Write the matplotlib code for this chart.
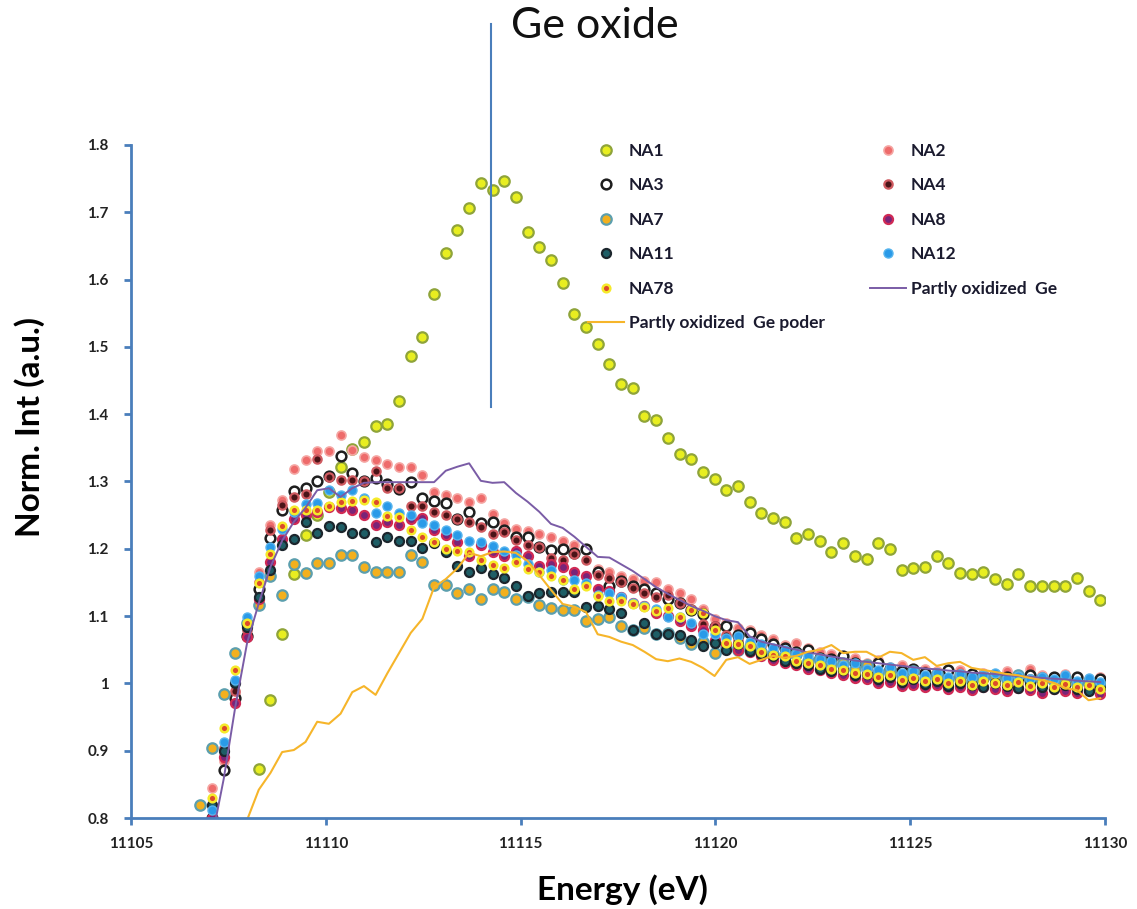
import matplotlib
matplotlib.use("Agg")
import matplotlib.pyplot as plt
import numpy as np

plt.rcParams["font.family"] = ["Lato", "DejaVu Sans"]

# energy grid (eV), 0.3 eV step
energy = 11106.78 + 0.3 * np.arange(78)

na1 = [0.700, 0.720, 0.740, 0.760, 0.785,
       0.873, 0.976, 1.073, 1.163, 1.221, 1.250, 1.285, 1.322, 1.348, 1.359,
       1.382, 1.385, 1.419, 1.487, 1.514, 1.578, 1.639, 1.673, 1.706, 1.743,
       1.733, 1.747, 1.723, 1.670, 1.649, 1.629, 1.595, 1.549, 1.529, 1.505,
       1.475, 1.445, 1.439, 1.398, 1.391, 1.364, 1.341, 1.334, 1.314, 1.303,
       1.287, 1.293, 1.270, 1.253, 1.246, 1.240, 1.216, 1.222, 1.212, 1.195,
       1.209, 1.189, 1.185, 1.209, 1.199, 1.168, 1.172, 1.173, 1.189, 1.179,
       1.164, 1.163, 1.166, 1.155, 1.148, 1.162, 1.145, 1.145, 1.145, 1.145,
       1.156, 1.138, 1.124]

na2 = [0.780, 0.845, 0.885, 0.985, 1.085, 1.165, 1.235, 1.272, 1.318, 1.332,
       1.345, 1.345, 1.369, 1.347, 1.336, 1.332, 1.326, 1.322, 1.322, 1.310,
       1.285, 1.280, 1.275, 1.270, 1.275, 1.252, 1.238, 1.230, 1.226, 1.222,
       1.218, 1.212, 1.206, 1.200, 1.170, 1.166, 1.160, 1.155, 1.152, 1.150,
       1.140, 1.134, 1.125, 1.110, 1.095, 1.090,
       1.082, 1.080, 1.072, 1.066, 1.057, 1.060, 1.052, 1.046, 1.044, 1.040,
       1.038, 1.030, 1.035, 1.025, 1.028, 1.020, 1.022, 1.018, 1.016, 1.020,
       1.014, 1.015, 1.012, 1.018, 1.013, 1.022, 1.012, 1.010, 1.014, 1.008,
       1.005, 1.010]

na3 = [0.760, 0.800, 0.871, 0.978, 1.070, 1.140, 1.216, 1.258, 1.286, 1.291,
       1.300, 1.308, 1.338, 1.313, 1.300, 1.305, 1.297, 1.289, 1.299, 1.276,
       1.271, 1.268, 1.244, 1.255, 1.238, 1.240, 1.228, 1.217, 1.218, 1.203,
       1.198, 1.200, 1.194, 1.199, 1.166, 1.144, 1.152, 1.144, 1.141, 1.134,
       1.125, 1.119, 1.109, 1.103, 1.084, 1.086,
       1.072, 1.075, 1.066, 1.058, 1.052, 1.047, 1.050, 1.038, 1.036, 1.041,
       1.030, 1.026, 1.030, 1.022, 1.018, 1.022, 1.016, 1.012, 1.020, 1.010,
       1.014, 1.008, 1.013, 1.010, 1.006, 1.012, 1.004, 1.009, 1.003, 1.010,
       1.000, 1.006]

na4 = [0.750, 0.820, 0.904, 0.988, 1.080, 1.150, 1.228, 1.265, 1.277, 1.282,
       1.333, 1.306, 1.302, 1.302, 1.300, 1.315, 1.290, 1.291, 1.264, 1.264,
       1.255, 1.250, 1.245, 1.240, 1.232, 1.222, 1.225, 1.213, 1.205, 1.203,
       1.186, 1.183, 1.192, 1.183, 1.161, 1.157, 1.150, 1.142, 1.134, 1.129,
       1.131, 1.120, 1.110, 1.089, 1.085, 1.072,
       1.065, 1.058, 1.055, 1.047, 1.043, 1.040, 1.033, 1.030, 1.027, 1.024,
       1.019, 1.022, 1.012, 1.014, 1.008, 1.010, 1.006, 1.009, 1.003, 1.006,
       1.001, 1.008, 1.002, 1.004, 1.000, 1.006, 0.999, 1.002, 0.998, 1.001,
       0.995, 0.998]

na7 = [0.819, 0.904, 0.984, 1.045, 1.090, 1.116, 1.160, 1.132, 1.177, 1.164,
       1.179, 1.179, 1.191, 1.191, 1.173, 1.166, 1.166, 1.166, 1.191, 1.180,
       1.146, 1.146, 1.134, 1.140, 1.125, 1.140, 1.136, 1.125, 1.129, 1.116,
       1.112, 1.109, 1.109, 1.093, 1.096, 1.099, 1.085, 1.080, 1.082, 1.073,
       1.075, 1.068, 1.059, 1.062, 1.045, 1.052,
       1.050, 1.054, 1.046, 1.044, 1.041, 1.044, 1.033, 1.036, 1.028, 1.030,
       1.022, 1.027, 1.016, 1.019, 1.013, 1.018, 1.008, 1.014, 1.006, 1.012,
       1.004, 1.011, 1.009, 1.006, 1.012, 1.005, 1.008, 1.003, 1.007, 0.999,
       1.004, 0.997]

na8 = [0.740, 0.800, 0.891, 0.971, 1.069, 1.126, 1.180, 1.215, 1.245, 1.250,
       1.255, 1.262, 1.260, 1.258, 1.250, 1.236, 1.240, 1.235, 1.244, 1.246,
       1.228, 1.220, 1.210, 1.190, 1.206, 1.195, 1.190, 1.196, 1.190, 1.175,
       1.178, 1.173, 1.165, 1.160, 1.140, 1.138, 1.128, 1.120, 1.115, 1.105,
       1.100, 1.092, 1.085, 1.080, 1.065, 1.058,
       1.050, 1.046, 1.040, 1.035, 1.030, 1.028, 1.022, 1.020, 1.015, 1.012,
       1.008, 1.006, 1.000, 1.002, 0.996, 0.998, 0.994, 0.997, 0.991, 0.995,
       0.990, 0.994, 0.992, 0.988, 0.993, 0.990, 0.986, 0.992, 0.989, 0.985,
       0.990, 0.984]

na11 = [0.760, 0.820, 0.900, 1.000, 1.084, 1.129, 1.168, 1.205, 1.214, 1.240,
        1.224, 1.234, 1.232, 1.224, 1.223, 1.210, 1.218, 1.211, 1.211, 1.201,
        1.208, 1.195, 1.174, 1.166, 1.171, 1.162, 1.157, 1.144, 1.130, 1.134,
        1.136, 1.136, 1.136, 1.114, 1.115, 1.110, 1.105, 1.080, 1.090, 1.074,
        1.074, 1.072, 1.064, 1.056, 1.060, 1.050,
        1.058, 1.048, 1.044, 1.040, 1.034, 1.030, 1.028, 1.022, 1.018, 1.020,
        1.012, 1.014, 1.006, 1.010, 1.002, 1.006, 0.999, 1.004, 0.996, 1.001,
        0.998, 0.994, 1.000, 0.996, 0.993, 0.999, 0.994, 0.991, 0.997, 0.992,
        0.988, 0.993]

na12 = [0.770, 0.812, 0.913, 1.005, 1.099, 1.159, 1.203, 1.230, 1.255, 1.266,
        1.268, 1.287, 1.280, 1.288, 1.275, 1.253, 1.264, 1.253, 1.250, 1.238,
        1.236, 1.228, 1.221, 1.211, 1.210, 1.204, 1.197, 1.191, 1.178, 1.166,
        1.168, 1.154, 1.154, 1.149, 1.131, 1.134, 1.129, 1.120, 1.115, 1.110,
        1.099, 1.099, 1.090, 1.074, 1.073, 1.067,
        1.070, 1.062, 1.058, 1.053, 1.050, 1.044, 1.040, 1.036, 1.033, 1.028,
        1.030, 1.022, 1.020, 1.024, 1.015, 1.018, 1.012, 1.016, 1.010, 1.014,
        1.009, 1.012, 1.016, 1.008, 1.011, 1.007, 1.010, 1.006, 1.012, 1.004,
        1.008, 1.002]

na78 = [0.780, 0.829, 0.933, 1.020, 1.090, 1.149, 1.193, 1.234, 1.258, 1.258,
        1.258, 1.264, 1.270, 1.271, 1.273, 1.270, 1.248, 1.247, 1.228, 1.218,
        1.210, 1.200, 1.197, 1.195, 1.183, 1.176, 1.171, 1.181, 1.170, 1.166,
        1.160, 1.154, 1.141, 1.144, 1.130, 1.123, 1.122, 1.118, 1.114, 1.108,
        1.112, 1.099, 1.109, 1.105, 1.080, 1.060,
        1.058, 1.055, 1.047, 1.042, 1.040, 1.034, 1.030, 1.028, 1.022, 1.020,
        1.016, 1.014, 1.010, 1.012, 1.005, 1.008, 1.003, 1.006, 1.000, 1.004,
        0.998, 1.003, 1.000, 0.997, 1.002, 0.996, 1.000, 0.995, 0.999, 0.994,
        0.997, 0.992]

partly_ge = [0.700, 0.770, 0.858, 0.966, 1.060, 1.119, 1.173, 1.212, 1.240, 1.261,
             1.287, 1.290, 1.277, 1.290, 1.298, 1.299, 1.299, 1.299, 1.299, 1.299,
             1.299, 1.316, 1.322, 1.327, 1.301, 1.298, 1.299, 1.283, 1.270, 1.255,
             1.237, 1.231, 1.218, 1.203, 1.188, 1.187, 1.177, 1.167, 1.155, 1.143,
             1.133, 1.124, 1.115, 1.108, 1.100, 1.094, 1.091, 1.070,
             1.062, 1.058, 1.054, 1.050, 1.046, 1.043, 1.040, 1.037, 1.034, 1.032,
             1.030, 1.028, 1.026, 1.024, 1.022, 1.021, 1.019, 1.018, 1.016, 1.015,
             1.014, 1.012, 1.011, 1.010, 1.008, 1.007, 1.006, 1.004, 1.003, 1.002]

partly_ge_poder = [0.700, 0.720, 0.750, 0.780, 0.797, 0.842, 0.867, 0.898, 0.901, 0.913,
                   0.943, 0.940, 0.955, 0.987, 0.996, 0.983, 1.015, 1.045, 1.075, 1.096,
                   1.143, 1.155, 1.171, 1.194, 1.189, 1.195, 1.196, 1.194, 1.182, 1.161,
                   1.139, 1.118, 1.114, 1.106, 1.073, 1.069, 1.062, 1.057, 1.047, 1.036,
                   1.033, 1.037, 1.032, 1.023, 1.011, 1.035, 1.039, 1.029, 1.035, 1.041,
                   1.038, 1.041, 1.047, 1.050, 1.057, 1.045, 1.047, 1.047, 1.038, 1.047,
                   1.045, 1.035, 1.039, 1.026, 1.030, 1.032, 1.023, 1.020, 1.017, 1.014,
                   1.012, 1.008, 1.005, 1.001, 0.993, 0.990, 0.975, 0.978]

# name, values, face, edge, size, edge width
markers = [
    ("NA1", na1, "#e8ee20", "#8fa43a", 7.5, 1.6),
    ("NA2", na2, "#ee6b6b", "#f5a5a2", 6.5, 1.2),
    ("NA3", na3, "white", "#1e1e1e", 7.0, 1.8),
    ("NA4", na4, "#4a1418", "#cf5a60", 6.0, 1.6),
    ("NA7", na7, "#f2b01e", "#5c9fae", 7.5, 1.6),
    ("NA8", na8, "#7a2478", "#d02a55", 6.5, 1.6),
    ("NA11", na11, "#1e5e66", "#1c262d", 6.5, 1.6),
    ("NA12", na12, "#2a9ae8", "#56b4ee", 6.5, 1.0),
    ("NA78", na78, "#dc4a2a", "#f6ea2a", 5.5, 1.8),
]

fig = plt.figure(figsize=(11.37, 9.09), dpi=100)
ax = fig.add_axes([0.1152, 0.1001, 0.8566, 0.7404])

h = {}
for name, vals, fc, ec, ms, mew in markers:
    h[name], = ax.plot(energy, vals, "o", ms=ms, mfc=fc, mec=ec, mew=mew,
                       linestyle="none", label=name)
h["Partly oxidized  Ge"], = ax.plot(energy, partly_ge, color="#7a5ca6", lw=1.4,
                                    label="Partly oxidized  Ge")
h["Partly oxidized  Ge poder"], = ax.plot(energy, partly_ge_poder, color="#f6b52a",
                                          lw=1.5, label="Partly oxidized  Ge poder")

ax.set_xlim(11105, 11130)
ax.set_ylim(0.8, 1.8)
ax.set_xticks([11105, 11110, 11115, 11120, 11125, 11130])
ax.set_yticks(np.arange(0.8, 1.81, 0.1))
ax.set_yticklabels(["0.8", "0.9", "1", "1.1", "1.2", "1.3", "1.4", "1.5", "1.6", "1.7", "1.8"])

blue = "#4a7ebb"
for s in ["top", "right"]:
    ax.spines[s].set_visible(False)
for s in ["left", "bottom"]:
    ax.spines[s].set_color(blue)
    ax.spines[s].set_linewidth(2)
ax.tick_params(axis="both", direction="out", color=blue, width=2, length=5,
               labelsize=11, labelcolor="#222222")
ax.tick_params(axis="y", pad=11)
ax.tick_params(axis="x", pad=9)
for t in ax.get_xticklabels() + ax.get_yticklabels():
    t.set_fontweight("bold")

ax.set_xlabel("Energy (eV)", fontsize=24, fontweight="bold")
ax.set_ylabel("Norm. Int (a.u.)", fontsize=24, fontweight="bold")
ax.xaxis.set_label_coords(0.505, -0.107)
ax.yaxis.set_label_coords(-0.104, 0.581)
ax.xaxis.label.set_va("center")
ax.yaxis.label.set_va("center")

order = ["NA1", "NA3", "NA7", "NA11", "NA78", "Partly oxidized  Ge poder",
         "NA2", "NA4", "NA8", "NA12", "Partly oxidized  Ge"]
leg = ax.legend([h[k] for k in order], order, ncol=2, frameon=False,
                loc="upper left", bbox_to_anchor=(588 / 1137, 1 - 143 / 909),
                bbox_transform=fig.transFigure, borderaxespad=0, borderpad=0,
                handlelength=2.1, handletextpad=0.25, labelspacing=1.06,
                columnspacing=2.6, prop={"weight": "bold", "size": 12.5})
for t in leg.get_texts():
    t.set_color("#1a1a2e")

# Ge oxide marker
ax.plot([11114.23, 11114.23], [1.41, 1.98], color=blue, lw=1.5, clip_on=False)
fig.text(595 / 1137, 1 - 26 / 909, "Ge oxide", fontsize=31, ha="center", va="center",
         color="#111111")

fig.savefig("out.png", dpi=100)
print("saved out.png")
